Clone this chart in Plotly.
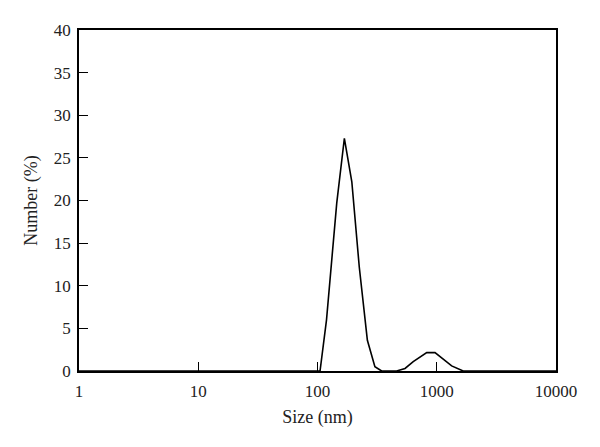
import plotly.graph_objects as go

size_nm = [1, 105, 119, 145, 168, 194, 224, 262, 303, 345, 461, 542, 635, 824, 967, 1135, 1334, 1667, 10000]
number_pct = [0, 0, 6.0, 19.7, 27.3, 22.2, 12.2, 3.6, 0.5, 0, 0, 0.3, 1.1, 2.15, 2.15, 1.4, 0.6, 0, 0]

x_tickvals = [1, 10, 100, 1000, 10000]
x_ticktext = ["1", "10", "100", "1000", "10000"]
y_tickvals = [0, 5, 10, 15, 20, 25, 30, 35, 40]

font_family = "Liberation Serif, Times New Roman, serif"

fig = go.Figure()
fig.add_trace(go.Scatter(
    x=size_nm, y=number_pct, mode="lines",
    line=dict(color="black", width=1.6),
    cliponaxis=False, showlegend=False,
))

fig.update_layout(
    width=592, height=439,
    margin=dict(l=71, r=44, t=22, b=76),
    paper_bgcolor="white", plot_bgcolor="white",
    font=dict(family=font_family, size=17, color="#222"),
    xaxis=dict(
        type="log", range=[0, 4],
        tickvals=x_tickvals, ticktext=x_ticktext,
        ticks="inside", ticklen=9, tickwidth=1.2, tickcolor="black",
        showline=True, linecolor="black", linewidth=1.5, mirror=True,
        showgrid=False, zeroline=False,
        title=dict(text="Size (nm)", standoff=10, font=dict(size=18)),
        tickfont=dict(size=17),
        ticklabelstandoff=4,
    ),
    yaxis=dict(
        range=[0, 40], tickvals=y_tickvals,
        ticks="inside", ticklen=9, tickwidth=1.2, tickcolor="black",
        showline=True, linecolor="black", linewidth=1.5, mirror=True,
        showgrid=False, zeroline=False,
        title=dict(text="Number (%)", standoff=12, font=dict(size=18)),
        tickfont=dict(size=17),
        ticklabelstandoff=3,
    ),
)

fig.write_html("out.html")
